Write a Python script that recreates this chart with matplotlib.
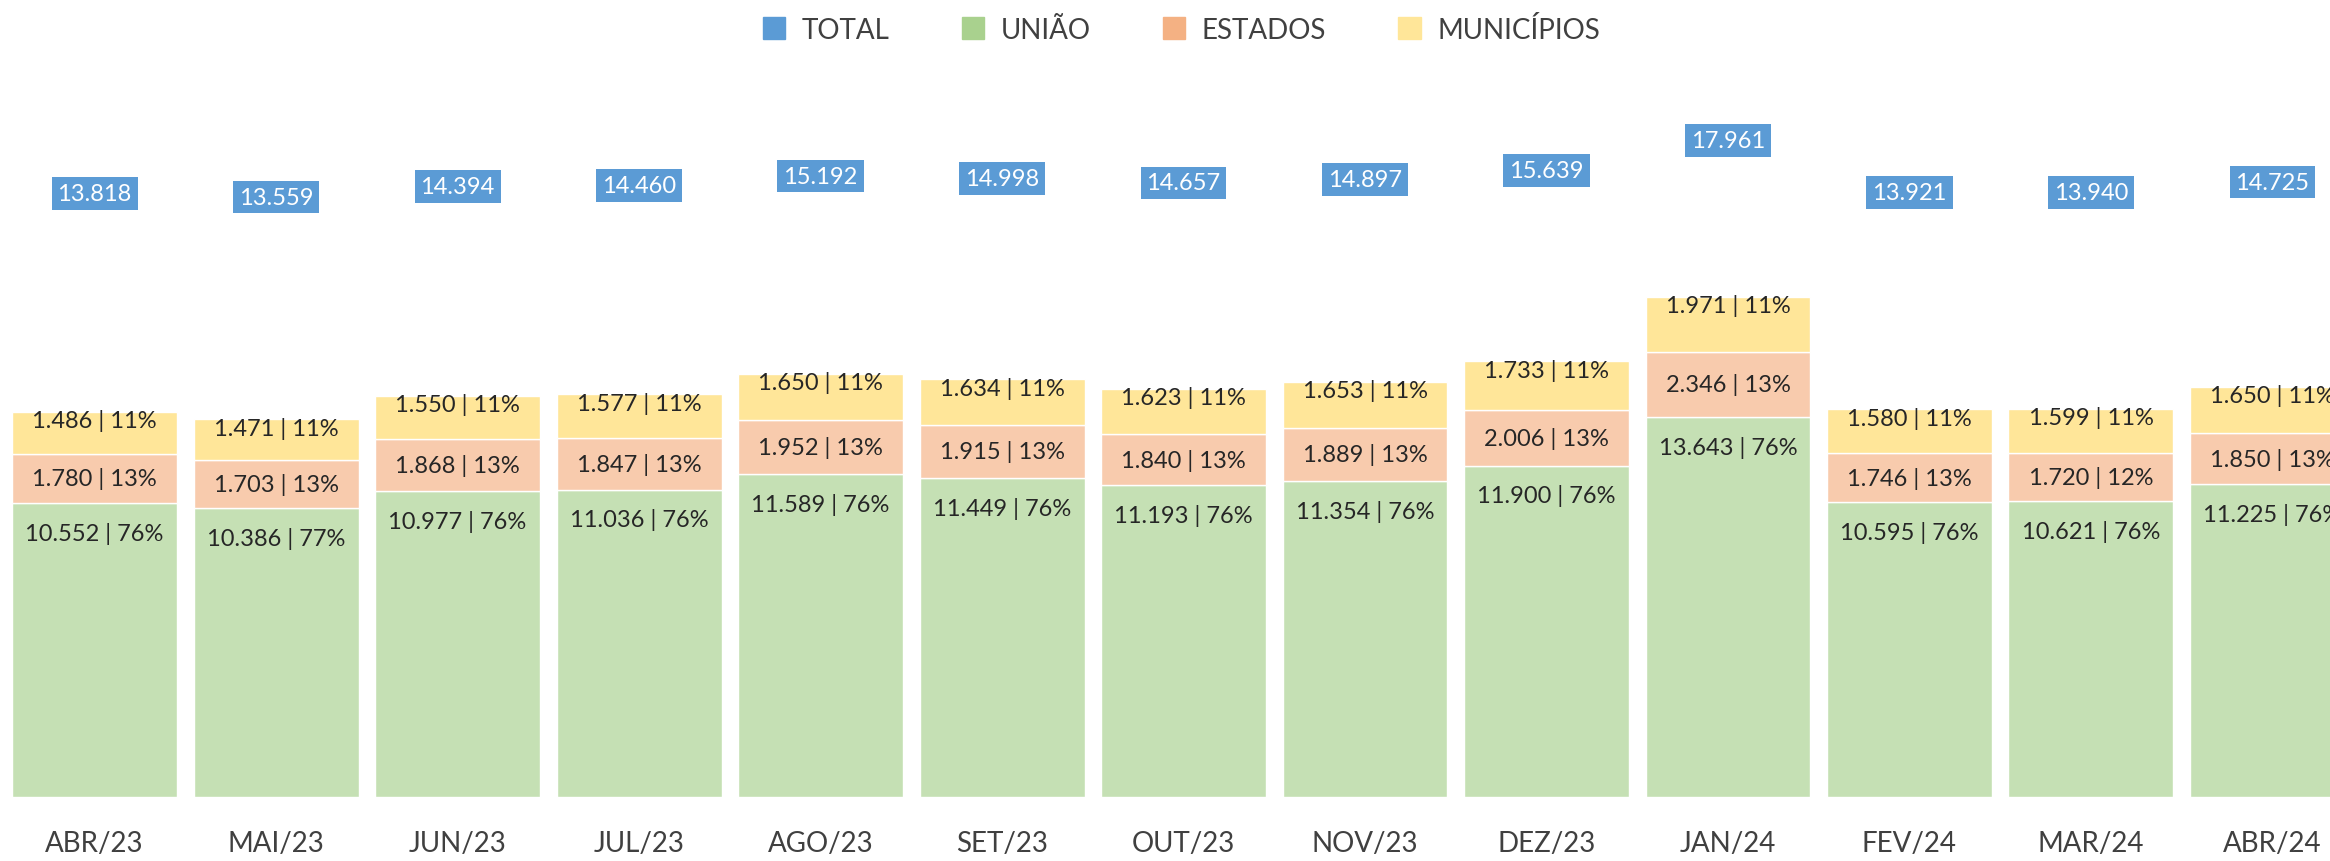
import matplotlib
matplotlib.use("Agg")
import matplotlib.pyplot as plt
from matplotlib.patches import Patch
import numpy as np

plt.rcParams['font.family'] = ['Lato', 'DejaVu Sans']

meses = ['ABR/23', 'MAI/23', 'JUN/23', 'JUL/23', 'AGO/23', 'SET/23', 'OUT/23',
         'NOV/23', 'DEZ/23', 'JAN/24', 'FEV/24', 'MAR/24', 'ABR/24']
uniao = [10552, 10386, 10977, 11036, 11589, 11449, 11193, 11354, 11900, 13643, 10595, 10621, 11225]
estados = [1780, 1703, 1868, 1847, 1952, 1915, 1840, 1889, 2006, 2346, 1746, 1720, 1850]
municipios = [1486, 1471, 1550, 1577, 1650, 1634, 1623, 1653, 1733, 1971, 1580, 1599, 1650]
total = [13818, 13559, 14394, 14460, 15192, 14998, 14657, 14897, 15639, 17961, 13921, 13940, 14725]

c_total = '#5B9BD5'
c_uniao, c_uniao_bar = '#A9D18E', '#C5E0B4'
c_est, c_est_bar = '#F4B183', '#F8CBAD'
c_mun, c_mun_bar = '#FFE699', '#FFE699'
txt = '#404040'


def fmt(v):
    return f"{v:,}".replace(",", ".")


x = np.arange(len(meses))
u = np.array(uniao) / 1000
e = np.array(estados) / 1000
m = np.array(municipios) / 1000
t = np.array(total)

fig = plt.figure(figsize=(23.3, 8.62), dpi=100)
ax = fig.add_axes([0, 1 - 798 / 862, 1, 798 / 862])
w = 0.909
ax.bar(x, u, w, color=c_uniao_bar, edgecolor='white', linewidth=1)
ax.bar(x, e, w, bottom=u, color=c_est_bar, edgecolor='white', linewidth=1)
ax.bar(x, m, w, bottom=u + e, color=c_mun_bar, edgecolor='white', linewidth=1)
ax.set_xlim(-0.521, 12.317)
ax.set_ylim(0, 28.65)

for i in x:
    tot = total[i]
    ax.annotate(f"{fmt(uniao[i])} | {round(uniao[i] / tot * 100)}%", (i, u[i]),
                xytext=(0, -21.5), textcoords='offset points', ha='center', va='center',
                fontsize=17, color='#262626')
    ax.annotate(f"{fmt(estados[i])} | {round(estados[i] / tot * 100)}%", (i, u[i] + e[i] / 2),
                ha='center', va='center', fontsize=17, color='#262626')
    ax.annotate(f"{fmt(municipios[i])} | {round(municipios[i] / tot * 100)}%",
                (i, u[i] + e[i] + m[i]), xytext=(0, -6), textcoords='offset points',
                ha='center', va='center', fontsize=17, color='#262626')

# total labels on a secondary scale
ax2 = ax.twinx()
ax2.set_ylim(-32.9, 28.9)
for i in x:
    ax2.text(i, t[i] / 1000, fmt(total[i]), ha='center', va='center', fontsize=17,
             color='white', bbox=dict(boxstyle='square,pad=0.25', fc=c_total, ec='none'))

for a in (ax, ax2):
    for s in a.spines.values():
        s.set_visible(False)
    a.set_yticks([])
ax.set_xticks(x)
ax.set_xticklabels(meses, fontsize=20, color=txt)
ax.tick_params(axis='x', length=0, pad=24)

handles = [Patch(color=c_total), Patch(color=c_uniao), Patch(color=c_est), Patch(color=c_mun)]
fig.legend(handles, ['TOTAL', 'UNIÃO', 'ESTADOS', 'MUNICÍPIOS'], loc='center',
           bbox_to_anchor=(0.507, 0.965), ncol=4, frameon=False, fontsize=20,
           labelcolor=txt, handlelength=0.8, handleheight=0.8, handletextpad=0.6,
           columnspacing=2.6)

fig.savefig('out.png', dpi=100)
